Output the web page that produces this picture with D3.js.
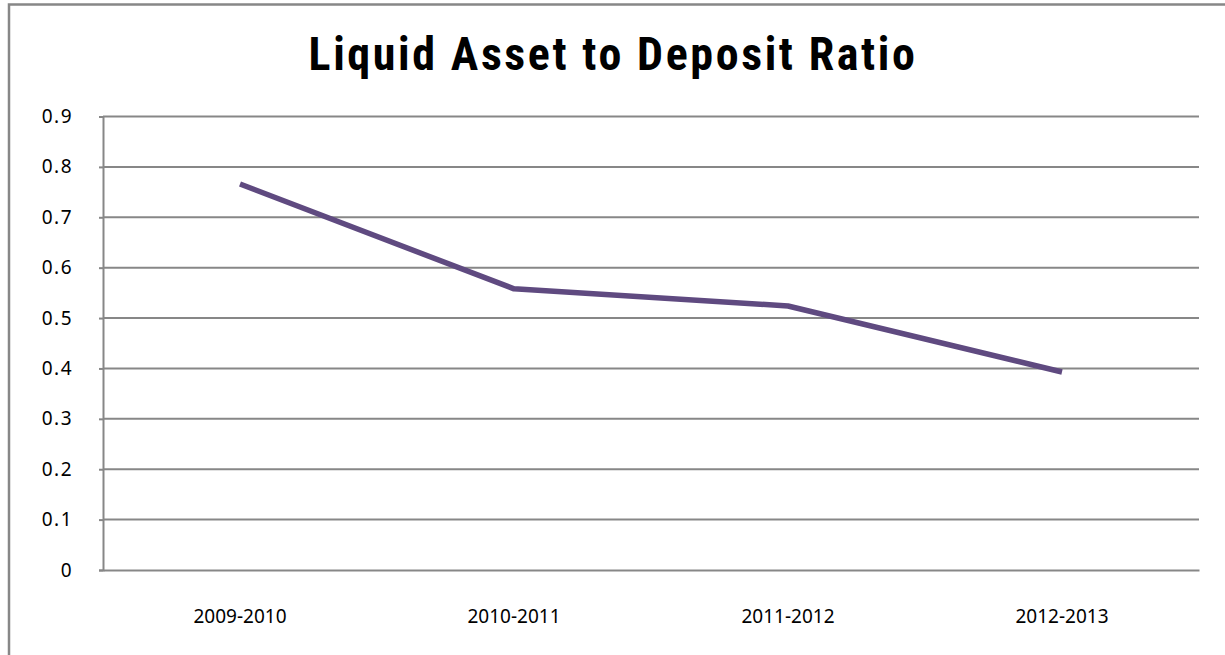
<!DOCTYPE html>
<html>
<head>
<meta charset="utf-8">
<script src="https://cdn.jsdelivr.net/npm/d3@7"></script>
<style>
  html, body { margin: 0; padding: 0; background: #ffffff; }
  svg { display: block; }
</style>
</head>
<body>
<svg id="chart" width="1225" height="655"></svg>
<script>
// Chart data
const categories = ["2009-2010", "2010-2011", "2011-2012", "2012-2013"];
const ratioValues = [0.766, 0.558, 0.524, 0.393];
const yTicks = [0, 0.1, 0.2, 0.3, 0.4, 0.5, 0.6, 0.7, 0.8, 0.9];
const chartTitle = "Liquid Asset to Deposit Ratio";

const W = 1225, H = 655;
const plot = { left: 103, right: 1199, top: 116.5, bottom: 570 };
const gridColor = "#878787";
const lineColor = "#5f4a80";
const labelFont = "'Noto Sans', 'Open Sans', sans-serif";

const svg = d3.select("#chart");

// outer chart frame (runs off the right and bottom edges)
svg.append("rect")
  .attr("x", 9).attr("y", 4.5)
  .attr("width", W + 20).attr("height", H + 20)
  .attr("fill", "#ffffff")
  .attr("stroke", gridColor)
  .attr("stroke-width", 2.5);

const x = d3.scaleBand()
  .domain(categories)
  .range([plot.left, plot.right])
  .padding(0);

const y = d3.scaleLinear()
  .domain([0, 0.9])
  .range([plot.bottom, plot.top]);

// horizontal gridlines
svg.append("g")
  .selectAll("line")
  .data(yTicks.filter(d => d > 0))
  .join("line")
  .attr("x1", plot.left).attr("x2", plot.right)
  .attr("y1", d => y(d)).attr("y2", d => y(d))
  .attr("stroke", gridColor)
  .attr("stroke-width", 2);

// value axis
const yAxis = svg.append("g")
  .attr("transform", `translate(${plot.left},0)`)
  .call(d3.axisLeft(y).tickValues(yTicks).tickSize(4).tickPadding(26)
    .tickFormat(d => d === 0 ? "0" : d3.format(".1f")(d)));
yAxis.select(".domain").attr("stroke", gridColor).attr("stroke-width", 2);
yAxis.selectAll(".tick line").attr("stroke", gridColor).attr("stroke-width", 2);
yAxis.selectAll(".tick text")
  .attr("fill", "#000")
  .style("font-family", labelFont)
  .style("font-size", "19px")
  .style("letter-spacing", "1.5px");

// category axis
const xAxis = svg.append("g")
  .attr("transform", `translate(0,${plot.bottom})`)
  .call(d3.axisBottom(x).tickSize(0).tickPadding(40));
xAxis.select(".domain").attr("stroke", gridColor).attr("stroke-width", 2);
xAxis.selectAll(".tick text")
  .attr("fill", "#000")
  .style("font-family", labelFont)
  .style("font-size", "19px");

// series line
const line = d3.line()
  .x((d, i) => x(categories[i]) + x.bandwidth() / 2)
  .y(d => y(d));

svg.append("path")
  .datum(ratioValues)
  .attr("d", line)
  .attr("fill", "none")
  .attr("stroke", lineColor)
  .attr("stroke-width", 5.5)
  .attr("stroke-linejoin", "round")
  .attr("stroke-linecap", "butt");

// title
svg.append("text")
  .attr("x", 613)
  .attr("y", 70)
  .attr("text-anchor", "middle")
  .style("font-family", "'Liberation Sans Narrow', 'Roboto Condensed', 'Arial Narrow', sans-serif")
  .style("font-weight", "bold")
  .style("font-size", "46px")
  .style("letter-spacing", "2.6px")
  .attr("fill", "#000")
  .text(chartTitle);
</script>
</body>
</html>
